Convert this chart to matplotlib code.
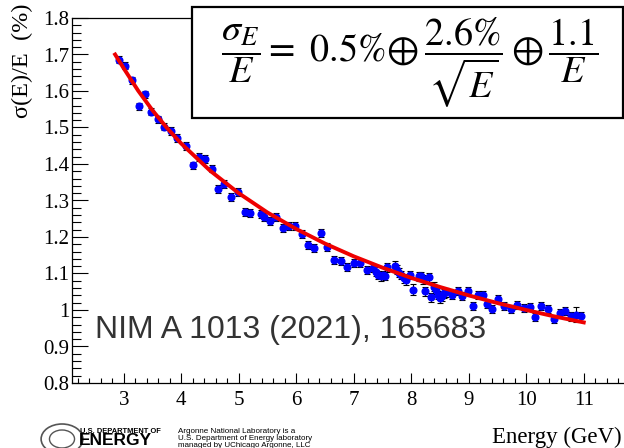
"""Energy resolution vs beam energy, ROOT-style figure with fit and formula box."""

import matplotlib

matplotlib.use("Agg")
import matplotlib.pyplot as plt
from matplotlib.patches import Circle, Rectangle
from matplotlib.ticker import FixedLocator, MultipleLocator

ENERGY = [
    2.92, 3.03, 3.15, 3.26, 3.37, 3.48, 3.59, 3.70, 3.82, 3.93,
    4.08, 4.20, 4.31, 4.42, 4.53, 4.64, 4.75, 4.87, 4.98, 5.10,
    5.20, 5.38, 5.44, 5.54, 5.65, 5.77, 5.88, 5.98, 6.10, 6.20,
    6.31, 6.43, 6.54, 6.66, 6.77, 6.89, 7.00, 7.11, 7.23, 7.34,
    7.39, 7.43, 7.47, 7.51, 7.55, 7.58, 7.71, 7.75, 7.79, 7.83,
    7.87, 7.91, 7.97, 8.03, 8.13, 8.17, 8.20, 8.24, 8.30, 8.34,
    8.39, 8.43, 8.47, 8.50, 8.53, 8.57, 8.61, 8.71, 8.82, 8.88,
    8.98, 9.07, 9.16, 9.25, 9.32, 9.40, 9.51, 9.62, 9.73, 9.84,
    9.96, 10.06, 10.16, 10.25, 10.38, 10.49, 10.59, 10.68, 10.78, 10.86,
    10.96,
]
RESOLUTION = [
    1.686, 1.669, 1.629, 1.558, 1.591, 1.543, 1.522, 1.502, 1.490, 1.471,
    1.449, 1.396, 1.419, 1.414, 1.387, 1.331, 1.344, 1.310, 1.323, 1.269,
    1.266, 1.262, 1.255, 1.244, 1.255, 1.225, 1.229, 1.231, 1.207, 1.178,
    1.170, 1.212, 1.173, 1.137, 1.135, 1.117, 1.130, 1.130, 1.110, 1.114,
    1.105, 1.096, 1.092, 1.096, 1.093, 1.117, 1.121, 1.110, 1.102, 1.096,
    1.087, 1.081, 1.096, 1.055, 1.092, 1.092, 1.084, 1.051, 1.090, 1.035,
    1.064, 1.055, 1.041, 1.032, 1.037, 1.046, 1.048, 1.041, 1.052, 1.039,
    1.053, 1.012, 1.040, 1.040, 1.016, 1.003, 1.030, 1.012, 1.003, 1.014,
    1.005, 1.007, 0.981, 1.010, 1.002, 0.975, 0.993, 0.998, 0.983, 0.987,
    0.983,
]
RES_ERR = [
    0.010, 0.010, 0.010, 0.010, 0.010, 0.010, 0.010, 0.010, 0.010, 0.010,
    0.010, 0.010, 0.010, 0.010, 0.010, 0.011, 0.011, 0.011, 0.011, 0.011,
    0.011, 0.011, 0.011, 0.011, 0.011, 0.011, 0.011, 0.011, 0.011, 0.011,
    0.011, 0.011, 0.011, 0.011, 0.011, 0.011, 0.011, 0.011, 0.011, 0.011,
    0.012, 0.012, 0.012, 0.012, 0.012, 0.012, 0.012, 0.012, 0.012, 0.012,
    0.012, 0.012, 0.012, 0.015, 0.012, 0.012, 0.012, 0.012, 0.012, 0.012,
    0.012, 0.012, 0.012, 0.012, 0.012, 0.012, 0.012, 0.011, 0.011, 0.011,
    0.011, 0.011, 0.011, 0.011, 0.011, 0.011, 0.011, 0.011, 0.011, 0.011,
    0.011, 0.011, 0.011, 0.011, 0.011, 0.011, 0.011, 0.011, 0.012, 0.020,
    0.012,
]

# Fit curve.
FIT_E = [2.85, 3.0, 3.25, 3.5, 3.75, 4.0, 4.5, 5.0, 5.5, 6.0,
         6.5, 7.0, 7.5, 8.0, 8.5, 9.0, 9.5, 10.0, 10.5, 11.0]
FIT_RES = [1.700, 1.662, 1.601, 1.547, 1.499, 1.456, 1.382, 1.320, 1.267, 1.222,
           1.182, 1.147, 1.116, 1.088, 1.063, 1.040, 1.019, 1.000, 0.982, 0.966]

X_TICKS = [3, 4, 5, 6, 7, 8, 9, 10, 11]
Y_TICKS = [0.8, 0.9, 1.0, 1.1, 1.2, 1.3, 1.4, 1.5, 1.6, 1.7, 1.8]
Y_TICK_LABELS = ["0.8", "0.9", "1", "1.1", "1.2", "1.3", "1.4", "1.5", "1.6", "1.7", "1.8"]

SERIF = "Liberation Serif"
SANS = "Liberation Sans"
W, H = 624, 448

plt.rcParams["mathtext.fontset"] = "stix"
fig = plt.figure(figsize=(W / 100, H / 100), dpi=100)

# pixel geometry of the frame (x=3 at 123 px, 57.5 px per GeV)
x_lo, x_hi = 2.1, 12.0
ax = fig.add_axes([72 / W, 1 - 383 / H, (x_hi - x_lo) * 57.5 / W, 365 / H])

ax.errorbar(ENERGY, RESOLUTION, yerr=RES_ERR, fmt="o", color="#0000ff",
            markersize=4.8, ecolor="black", elinewidth=0.8, capsize=2.0,
            capthick=0.8, zorder=3)
ax.plot(FIT_E, FIT_RES, color="#ee0000", linewidth=2.8, zorder=4)

ax.set_xlim(x_lo, x_hi)
ax.set_ylim(0.8, 1.8)
ax.xaxis.set_major_locator(FixedLocator(X_TICKS))
ax.xaxis.set_minor_locator(MultipleLocator(0.2))
ax.set_yticks(Y_TICKS)
ax.set_yticklabels(Y_TICK_LABELS)
ax.yaxis.set_minor_locator(MultipleLocator(0.02))

ax.tick_params(axis="x", which="major", direction="in", length=7.5, width=0.8,
               pad=6, labelsize=15)
ax.tick_params(axis="x", which="minor", direction="in", length=3.5, width=0.8)
ax.tick_params(axis="y", which="major", direction="in", length=11.5, width=0.8,
               pad=2, labelsize=15)
ax.tick_params(axis="y", which="minor", direction="in", length=6.5, width=0.8)
for lab in ax.get_xticklabels() + ax.get_yticklabels():
    lab.set_fontfamily(SERIF)
for side in ("left", "bottom", "top", "right"):
    ax.spines[side].set_linewidth(0.9)

# axis titles, ROOT style (y at top, x at right)
fig.text(22 / W, 1 - 4 / H, "σ(E)/E  (%)", rotation=90, ha="center", va="top",
         fontsize=17.5, family=SERIF)
fig.text(622 / W, 1 - 443 / H, "Energy (GeV)", ha="right", va="baseline",
         fontsize=16.5, family=SERIF)

ax.text(95 / W, 1 - 338 / H, "NIM A 1013 (2021), 165683", transform=fig.transFigure,
        ha="left", va="baseline", fontsize=23, family=SANS, color="#333333",
        zorder=5)

# formula box on top of the frame
fig.patches.append(Rectangle((192 / W, 1 - 118 / H), 431 / W, 111 / H,
                             transform=fig.transFigure, facecolor="white",
                             edgecolor="black", linewidth=1.6, zorder=10))
fig.text(410 / W, 1 - 62 / H,
         r"$\dfrac{\sigma_E}{E} = \ 0.5\%\!\oplus\dfrac{2.6\%}{\sqrt{E}}\oplus\dfrac{1.1}{E}$",
         ha="center", va="center", fontsize=27.5, zorder=11)

# DOE / Argonne footer
fig.patches.append(Circle((62 / W, 1 - 439 / H), 15 / H, transform=fig.transFigure,
                          facecolor="white", edgecolor="#555555", linewidth=1.2))
fig.patches.append(Circle((62 / W, 1 - 439 / H), 9 / H, transform=fig.transFigure,
                          facecolor="white", edgecolor="#555555", linewidth=1.0))
fig.text(80 / W, 1 - 432.5 / H, "U.S. DEPARTMENT OF", fontsize=5.4, weight="bold",
         family=SANS, ha="left", va="baseline")
fig.text(79 / W, 1 - 445 / H, "ENERGY", fontsize=12.5, weight="bold",
         family=SANS, ha="left", va="baseline")
fig.text(178 / W, 1 - 433 / H, "Argonne National Laboratory is a", fontsize=5.8,
         family=SANS, ha="left", va="baseline")
fig.text(178 / W, 1 - 440 / H, "U.S. Department of Energy laboratory", fontsize=5.8,
         family=SANS, ha="left", va="baseline")
fig.text(178 / W, 1 - 446.5 / H, "managed by UChicago Argonne, LLC", fontsize=5.8,
         family=SANS, ha="left", va="baseline")

fig.savefig("out.png", dpi=100)
